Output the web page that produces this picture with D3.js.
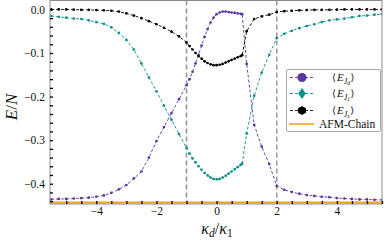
<!DOCTYPE html>
<html><head><meta charset="utf-8">
<script src="https://cdn.jsdelivr.net/npm/d3@7"></script>
<style>
body{margin:0;background:#fff}
svg{display:block}
text{font-family:"Liberation Serif","DejaVu Serif",serif;fill:#111}
</style>
</head><body><svg id="c" width="384" height="240"></svg>
<script>
const kappa = [-5.5,-5.25,-5,-4.75,-4.5,-4.25,-4,-3.75,-3.5,-3.25,-3,-2.75,-2.5,-2.25,-2,-1.75,-1.5,-1.25,
  -1,-0.9,-0.8,-0.7,-0.6,-0.5,-0.4,-0.3,-0.2,-0.1,0,0.1,0.2,0.3,0.4,0.5,0.6,0.7,0.8,0.85,
  1.0,1.25,1.5,1.75,2.0,2.25,2.5,2.75,3,3.25,3.5,3.75,4,4.25,4.5,4.75,5,5.25,5.5];
const eJd = [-0.436,-0.435,-0.435,-0.434,-0.433,-0.432,-0.430,-0.427,-0.421,-0.413,-0.403,-0.388,-0.372,-0.340,-0.302,-0.270,-0.238,-0.206,
  -0.174,-0.160,-0.143,-0.124,-0.104,-0.083,-0.063,-0.045,-0.030,-0.019,-0.011,-0.007,-0.005,-0.005,-0.006,-0.007,-0.008,-0.009,-0.010,-0.011,
  -0.125,-0.265,-0.315,-0.355,-0.405,-0.414,-0.419,-0.423,-0.426,-0.428,-0.430,-0.431,-0.433,-0.434,-0.435,-0.436,-0.436,-0.437,-0.437];
const eJ1 = [-0.015,-0.017,-0.019,-0.021,-0.022,-0.025,-0.029,-0.033,-0.041,-0.054,-0.070,-0.092,-0.124,-0.156,-0.188,-0.221,-0.253,-0.286,
  -0.318,-0.331,-0.342,-0.351,-0.360,-0.368,-0.375,-0.381,-0.386,-0.389,-0.390,-0.389,-0.386,-0.382,-0.377,-0.372,-0.367,-0.362,-0.357,-0.354,
  -0.285,-0.198,-0.145,-0.104,-0.066,-0.056,-0.049,-0.043,-0.038,-0.034,-0.029,-0.025,-0.023,-0.021,-0.018,-0.015,-0.014,-0.012,-0.011];
const eJx = [0.000,0.000,0.000,-0.0005,-0.001,-0.001,-0.0015,-0.002,-0.003,-0.005,-0.009,-0.014,-0.020,-0.027,-0.034,-0.042,-0.051,-0.062,
  -0.076,-0.084,-0.092,-0.100,-0.107,-0.113,-0.119,-0.123,-0.126,-0.128,-0.128,-0.127,-0.125,-0.122,-0.119,-0.116,-0.113,-0.110,-0.107,-0.105,
  -0.050,-0.022,-0.016,-0.012,-0.006,-0.004,-0.003,-0.002,-0.0015,-0.001,-0.001,-0.001,-0.0005,0,0,0,0,0,0];
const afmChain = 0.25 - Math.log(2);
const vLines = [-1, 2];
const xTickLabels = [-4, -2, 0, 2, 4];
const yTickLabels = [0, -0.1, -0.2, -0.3, -0.4];
const seriesNames = ["Jd", "J1", "Jx"];
const seriesColors = ["#5b34a0", "#0b8f8a", "#000000"];

const svg = d3.select("#c");
const L = 50, R = 382, T = 0.5, B = 204;
const x = d3.scaleLinear().domain([-5.54, 5.5]).range([L, R]);
const y = d3.scaleLinear().domain([-0.4466, 0.0205]).range([B, T]);

svg.append("defs").append("clipPath").attr("id", "clip")
  .append("rect").attr("x", L).attr("y", T).attr("width", R - L).attr("height", B - T);

const plot = svg.append("g").attr("clip-path", "url(#clip)");

plot.selectAll(".vl").data(vLines).join("line")
  .attr("x1", d => x(d)).attr("x2", d => x(d)).attr("y1", T).attr("y2", B)
  .attr("stroke", "#9a9a9a").attr("stroke-width", 1.6).attr("stroke-dasharray", "5,3");

const series = [eJd, eJ1, eJx];
const line = d3.line().x(d => x(d[0])).y(d => y(d[1]));
series.forEach((vals, i) => {
  const pts = kappa.map((k, j) => [k, vals[j]]);
  plot.append("path").datum(pts).attr("d", line).attr("fill", "none")
    .attr("stroke", seriesColors[i]).attr("stroke-width", 0.9).attr("stroke-dasharray", "3,2");
  plot.append("g").selectAll("circle").data(pts).join("circle")
    .attr("cx", d => x(d[0])).attr("cy", d => y(d[1])).attr("r", 1.35)
    .attr("fill", seriesColors[i]);
});

plot.append("line").attr("x1", L).attr("x2", R).attr("y1", y(afmChain)).attr("y2", y(afmChain))
  .attr("stroke", "#f7a21b").attr("stroke-width", 2);

svg.append("rect").attr("x", L).attr("y", T).attr("width", R - L).attr("height", B - T)
  .attr("fill", "none").attr("stroke", "#8a8a8a").attr("stroke-width", 1);

const xAxisMinor = d3.axisBottom(x).tickValues(d3.range(-5, 5.51, 0.5)).tickSize(-3).tickFormat("");
svg.append("g").attr("transform", `translate(0,${B})`).call(xAxisMinor)
  .call(g => g.select(".domain").remove())
  .call(g => g.selectAll("line").attr("stroke", "#000").attr("stroke-width", 1.3));
const fmt = v => (v < 0 ? "\u2212" : "") + Math.abs(v);
const xAxisLab = d3.axisBottom(x).tickValues(xTickLabels).tickSize(0).tickPadding(3).tickFormat(fmt);
svg.append("g").attr("transform", `translate(0,${B})`).call(xAxisLab)
  .call(g => g.select(".domain").remove())
  .call(g => g.selectAll("text").attr("font-size", 11.5).attr("font-family", "Liberation Serif, serif").attr("fill", "#111"));

const yAxisMinor = d3.axisLeft(y).tickValues(d3.range(0, -0.441, -0.02)).tickSize(-3).tickFormat("");
svg.append("g").attr("transform", `translate(${L},0)`).call(yAxisMinor)
  .call(g => g.select(".domain").remove())
  .call(g => g.selectAll("line").attr("stroke", "#000").attr("stroke-width", 1.3));
const yAxisLab = d3.axisLeft(y).tickValues(yTickLabels).tickSize(0).tickPadding(5)
  .tickFormat(v => (v < 0 ? "\u2212" : "") + Math.abs(v).toFixed(1));
svg.append("g").attr("transform", `translate(${L},0)`).call(yAxisLab)
  .call(g => g.select(".domain").remove())
  .call(g => g.selectAll("text").attr("font-size", 11.5).attr("font-family", "Liberation Serif, serif").attr("fill", "#111"));

const yl = svg.append("text").attr("transform", "translate(17,107) rotate(-90)")
  .attr("text-anchor", "middle").attr("font-size", 17);
yl.append("tspan").attr("font-style", "italic").text("E");
yl.append("tspan").text("/");
yl.append("tspan").attr("font-style", "italic").text("N");

const xl = svg.append("text").attr("x", 217).attr("y", 234)
  .attr("text-anchor", "middle").attr("font-size", 16);
xl.append("tspan").attr("font-style", "italic").text("κ");
xl.append("tspan").attr("font-style", "italic").attr("font-size", 11.5).attr("dy", 3).text("d");
xl.append("tspan").attr("dy", -3).text("/");
xl.append("tspan").attr("font-style", "italic").text("κ");
xl.append("tspan").attr("font-size", 11.5).attr("dy", 3).text("1");

const lg = svg.append("g");
lg.append("rect").attr("x", 286.5).attr("y", 69.5).attr("width", 94).attr("height", 62).attr("rx", 1.5)
  .attr("fill", "#fff").attr("fill-opacity", 0.85).attr("stroke", "#a8a8a8").attr("stroke-width", 1);
const rowsY = [77.5, 93.5, 110.5];
const subs = ["d", "1", "x"];
const hex = d3.range(6).map(k => [4.6 * Math.cos(Math.PI / 3 * k), 4.6 * Math.sin(Math.PI / 3 * k)]);
rowsY.forEach((ry, i) => {
  lg.append("line").attr("x1", 290).attr("x2", 314).attr("y1", ry).attr("y2", ry)
    .attr("stroke", seriesColors[i]).attr("stroke-width", 0.9).attr("stroke-dasharray", "3,2");
  const cx = 302;
  if (i === 0) lg.append("circle").attr("cx", cx).attr("cy", ry).attr("r", 4.6).attr("fill", seriesColors[i]);
  if (i === 1) lg.append("path").attr("d", `M${cx},${ry - 5.5}L${cx + 3.8},${ry}L${cx},${ry + 5.5}L${cx - 3.8},${ry}Z`).attr("fill", seriesColors[i]);
  if (i === 2) lg.append("path").attr("d", "M" + hex.map(p => [cx + p[1], ry + p[0]].join(",")).join("L") + "Z").attr("fill", seriesColors[i]);
  const t = lg.append("text").attr("x", 332).attr("y", ry + 3.5).attr("font-size", 11);
  t.append("tspan").attr("font-family", "DejaVu Serif, serif").attr("font-size", 10).text("\u27E8");
  t.append("tspan").attr("font-style", "italic").attr("dx", 1).text("E");
  t.append("tspan").attr("font-style", "italic").attr("font-size", 8).attr("dy", 2.5).text("J");
  t.append("tspan").attr("font-style", "italic").attr("font-size", 5.5).attr("dy", 1.5).text(subs[i]);
  t.append("tspan").attr("font-family", "DejaVu Serif, serif").attr("font-size", 10).attr("dy", -4).attr("dx", 0.5).text("\u27E9");
});
lg.append("line").attr("x1", 289).attr("x2", 314).attr("y1", 124).attr("y2", 124)
  .attr("stroke", "#f7a21b").attr("stroke-width", 1.6);
lg.append("text").attr("x", 319).attr("y", 128).attr("font-size", 11.5).text("AFM-Chain");
</script></body></html>
